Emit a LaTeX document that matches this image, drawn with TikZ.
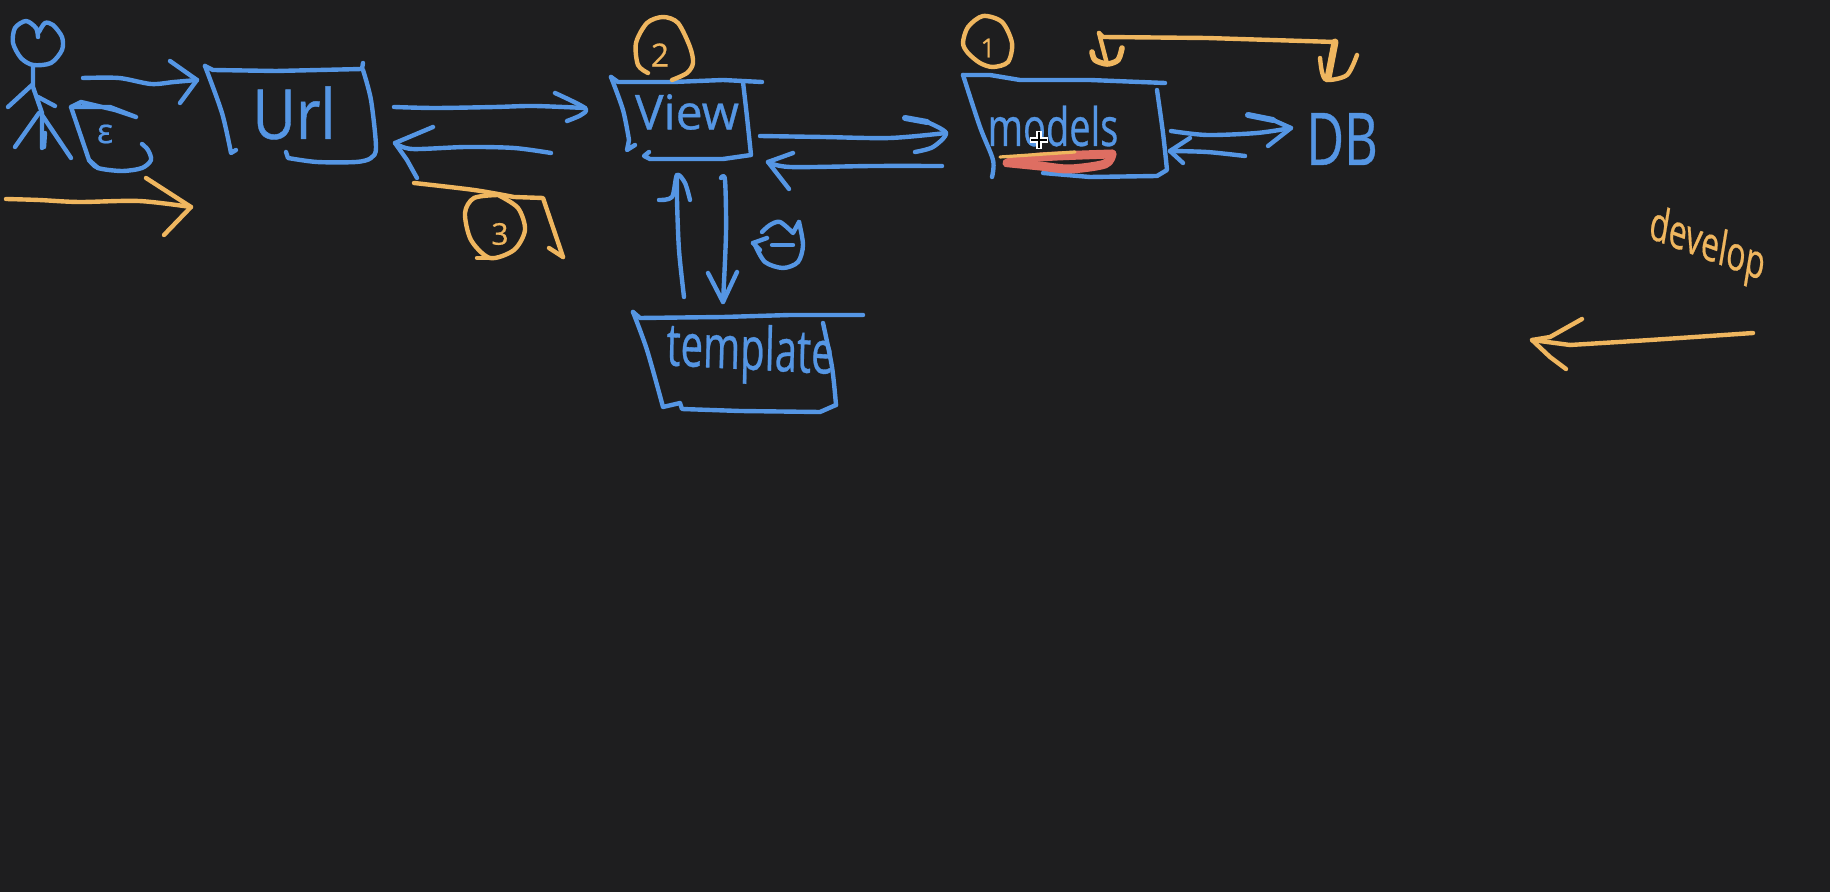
\documentclass[tikz,border=0pt]{standalone}
\usepackage{fontspec}
\setmainfont{Open Sans}[FakeBold=0.6]
\usetikzlibrary{arrows.meta}
\definecolor{boardbg}{HTML}{1E1E1F}
\definecolor{penblue}{HTML}{5596E4}
\definecolor{penorange}{HTML}{EFB65F}
\definecolor{penred}{HTML}{DE6E62}
\tikzset{
  bluepen/.style={draw=penblue,line width=2.2pt,line cap=round,line join=round},
  orangepen/.style={draw=penorange,line width=2.2pt,line cap=round,line join=round},
  redpen/.style={draw=penred,line width=4.5pt,line cap=round,line join=round},
  handblue/.style={text=penblue,inner sep=0pt},
  handorange/.style={text=penorange,inner sep=0pt}
}
\begin{document}
\begin{tikzpicture}[x=0.5pt,y=-0.5pt]
    \useasboundingbox (0,0) rectangle (1830,892);
    \fill[boardbg] (0,0) rectangle (1830,892);

    % labels
    \begin{scope}[every node/.style={handblue}]
      \node[font=\fontsize{30}{30}\selectfont,yscale=1.15] (url) at (294,113) {Url};
      \node[font=\fontsize{24}{24}\selectfont] (view) at (687,112) {View};
      \node[font=\fontsize{19}{19}\selectfont,yscale=1.4] (models) at (1053,126) {models};
      \node[font=\fontsize{26}{26}\selectfont,yscale=1.4] (db) at (1342,139) {DB};
      \node[font=\fontsize{20}{20}\selectfont,yscale=1.5,rotate=-2] (template) at (750,354) {template};
      \node[font=\fontsize{17}{17}\selectfont] (browser) at (105,134) {ε};
    \end{scope}
    \begin{scope}[every node/.style={handorange}]
      \node[font=\fontsize{16}{16}\selectfont,yscale=1.5,rotate=-14] (develop) at (1707,247) {develop};
      \node[font=\fontsize{13}{13}\selectfont] (first) at (988,48) {1};
      \node[font=\fontsize{16}{16}\selectfont] (second) at (660,55) {2};
      \node[font=\fontsize{15}{15}\selectfont] (third) at (500,234) {3};
    \end{scope}

    % connector ends
    \coordinate (user out) at (83,78);
    \coordinate (url in) at (197,80);
    \coordinate (url out) at (394,107);
    \coordinate (view in) at (585,108);
    \coordinate (view back) at (551,153);
    \coordinate (url back) at (395,143);
    \coordinate (user low) at (6,199);
    \coordinate (url low) at (191,207);
    \coordinate (view out) at (760,136);
    \coordinate (models in) at (946,133);
    \coordinate (models back) at (942,166);
    \coordinate (view back2) at (768,162);
    \coordinate (template up) at (684,297);
    \coordinate (view low) at (677,175);
    \coordinate (view down) at (725,180);
    \coordinate (template in) at (723,302);
    \coordinate (models out) at (1171,131);
    \coordinate (db in) at (1291,128);
    \coordinate (db back) at (1245,156);
    \coordinate (models back2) at (1170,151);
    \coordinate (models top) at (1099,33);
    \coordinate (db top) at (1335,42);
    \coordinate (develop out) at (1753,333);
    \coordinate (develop in) at (1532,340);
    \coordinate (third out) at (414,183);
    \coordinate (third end) at (563,257);

    % boxes
    \draw[bluepen] (205,66) -- (213,70) -- (276,71) -- (362,69) -- (363,63);
    \draw[bluepen] plot[smooth] coordinates {(205,66) (222,113) (231,153)} -- (236,150);
    \draw[bluepen] plot[smooth] coordinates {(363,70) (371,100) (376,147) (371,158) (356,162) (317,162) (288,158)} -- (286,152);
    \draw[bluepen] (611,77) -- (618,82) -- (673,82) -- (723,80) -- (762,82);
    \draw[bluepen] plot[smooth] coordinates {(611,77) (623,110) (629,140)} -- (627,150) -- (635,145);
    \draw[bluepen] plot[smooth] coordinates {(743,82) (747,117) (751,155)} -- (723,159) -- (650,159) -- (644,156) -- (649,152);
    \draw[bluepen] (963,75) -- (990,75) -- (1020,80) -- (1090,80) -- (1165,83);
    \draw[bluepen] plot[smooth] coordinates {(963,75) (980,127) (993,160) (992,177)};
    \draw[bluepen] plot[smooth] coordinates {(1157,90) (1163,133) (1167,170)} -- (1157,176) -- (1090,177) -- (1043,173);
    \draw[bluepen] (633,312) -- (640,318) -- (723,317) -- (790,315) -- (863,315);
    \draw[bluepen] plot[smooth] coordinates {(633,312) (647,350) (663,407)} -- (680,403) -- (682,409) -- (740,411) -- (820,412) -- (836,405);
    \draw[bluepen] plot[smooth] coordinates {(836,405) (832,367) (823,323)};

    % user and browser
    \draw[bluepen] plot[smooth] coordinates {(38,37) (36,28) (26,21) (15,28) (13,43) (21,58) (33,65) (51,63) (62,50) (62,37) (53,25) (45,23) (39,32)};
    \draw[bluepen] (33,65) -- (33,87) -- (42,113) -- (42,148);
    \draw[bluepen] (32,85) -- (8,107);
    \draw[bluepen] (38,97) -- (55,106);
    \draw[bluepen] (39,113) -- (15,147);
    \draw[bluepen] (42,115) -- (71,158);
    \draw[bluepen] (45,133) -- (44,147);
    \draw[bluepen] (136,117) -- (115,110) -- (81,102) -- (71,107) -- (110,107) -- (136,117);
    \draw[bluepen] (71,107) -- (89,160) -- (98,168);
    \draw[bluepen] plot[smooth] coordinates {(89,160) (98,168) (122,171) (142,168) (151,160) (148,150) (142,144)};

    % connectors
    \draw[bluepen] plot[smooth] coordinates {(user out) (119,78) (151,84) (174,82) (url in)};
    \draw[bluepen] (170,61) -- (url in) -- (180,103);
    \draw[orangepen] plot[smooth] coordinates {(user low) (39,200) (79,202) (139,201) (url low)};
    \draw[orangepen] (146,178) -- (url low) -- (164,235);
    \draw[bluepen] plot[smooth] coordinates {(url out) (435,108) (495,107) (534,106) (view in)};
    \draw[bluepen] plot[smooth] coordinates {(555,93) (view in) (581,115) (567,121)};
    \draw[bluepen] plot[smooth] coordinates {(view back) (514,148) (466,147) (412,149) (url back)};
    \draw[bluepen] (433,127) -- (url back) -- (407,160) -- (417,178);
    \draw[bluepen] plot[smooth] coordinates {(view out) (823,137) (890,138) (models in)};
    \draw[bluepen,line width=3pt] (905,118) -- (927,122);
    \draw[bluepen] plot[smooth] coordinates {(927,122) (models in) (933,147) (915,152)};
    \draw[bluepen] plot[smooth] coordinates {(models back) (873,166) (790,167) (view back2)};
    \draw[bluepen] (793,153) -- (view back2) -- (789,189);
    \draw[bluepen] plot[smooth] coordinates {(template up) (679,250) (677,200) (view low)};
    \draw[bluepen] plot[smooth] coordinates {(659,200) (672,197) (view low) (685,183) (690,200)};
    \draw[bluepen] plot[smooth] coordinates {(721,178) (view down) (726,233) (template in)};
    \draw[bluepen] (708,273) -- (template in) -- (737,272);
    \draw[bluepen] plot[smooth] coordinates {(models out) (1207,135) (1257,133) (db in)};
    \draw[bluepen,line width=3pt] (1248,115) -- (1273,120);
    \draw[bluepen] (1273,120) -- (db in) -- (1268,146);
    \draw[bluepen] plot[smooth] coordinates {(db back) (1207,152) (models back2)};
    \draw[bluepen] (1190,138) -- (models back2) -- (1183,163);

    % orange connectors
    \draw[orangepen] (models top) -- (1103,37) -- (1207,38) -- (db top) -- (1327,80);
    \draw[orangepen] (models top) -- (1107,64);
    \draw[orangepen,line width=2.8pt] plot[smooth] coordinates {(1092,52) (1095,60) (1107,64) (1118,60) (1122,48)};
    \draw[orangepen,line width=3.5pt] (db top) -- (1328,78);
    \draw[orangepen] plot[smooth] coordinates {(1320,58) (1322,72) (1327,80) (1347,75) (1357,55)};
    \draw[orangepen] plot[smooth] coordinates {(third out) (474,190) (514,197)} -- (543,198) -- (third end);
    \draw[orangepen] (third end) -- (549,248);
    \draw[orangepen] plot[smooth] coordinates {(develop out) (1650,340) (1570,345)};
    \draw[orangepen] (1570,345) -- (develop in);
    \draw[orangepen] (1582,319) -- (1550,337) -- (develop in) -- (1550,357) -- (1566,369);

    % circles round the numbers
    \draw[orangepen] plot[smooth] coordinates {(498,195) (474,198) (465,213) (471,240) (490,258) (514,250) (525,230) (518,208) (498,195)};
    \draw[orangepen] (477,258) -- (495,258);
    \draw[orangepen] plot[smooth] coordinates {(648,73) (638,65) (636,43) (647,23) (663,17) (678,23) (690,47) (693,63) (687,73) (672,80)};
    \draw[orangepen] plot[smooth cycle] coordinates {(963,43) (968,27) (983,16) (1002,22) (1012,43) (1008,62) (993,67) (980,63) (968,53)};

    % refresh mark
    \draw[bluepen] plot[smooth] coordinates {(799,222) (803,245) (798,262) (783,268) (765,262) (755,245)};
    \draw[bluepen] (753,243) -- (767,238);
    \draw[bluepen] (753,243) -- (760,250);
    \draw[bluepen] (772,245) -- (793,245);
    \draw[bluepen] plot[smooth] coordinates {(762,232) (770,225) (780,222) (793,233)} -- (799,222);

    % highlight under models
    \draw[redpen] plot[smooth] coordinates {(1007,163) (1040,157) (1112,154)};
    \draw[redpen] plot[smooth] coordinates {(1112,154) (1105,164) (1070,169) (1040,166) (1010,163)};
    \draw[orangepen,line width=1.6pt] (1000,157) -- (1075,152);

    % cursor
    \draw[white,line width=2.6pt] (1030,140) -- (1048,140) (1039,131) -- (1039,149);
    \draw[black,line width=1pt] (1031,140) -- (1047,140) (1039,132) -- (1039,148);
  \end{tikzpicture}
\end{document}
